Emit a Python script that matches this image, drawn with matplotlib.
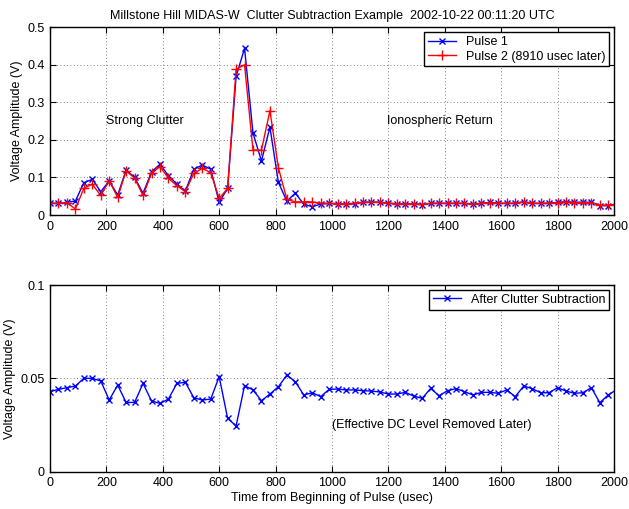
import numpy as np
import matplotlib.pyplot as plt

plt.rcParams['font.family'] = ['Liberation Sans', 'DejaVu Sans']

# sample times (usec), 30 usec spacing; last sample lies just past 2000
t = np.arange(0, 2011, 30)

pulse1 = [0.031, 0.031, 0.034, 0.037, 0.086, 0.095, 0.062, 0.091, 0.053, 0.120,
          0.100, 0.058, 0.115, 0.135, 0.105, 0.082, 0.064, 0.122, 0.133, 0.122,
          0.034, 0.071, 0.369, 0.444, 0.218, 0.144, 0.234, 0.087, 0.037, 0.058,
          0.029, 0.022, 0.029, 0.031, 0.030, 0.030, 0.029, 0.034, 0.034, 0.034,
          0.031, 0.030, 0.030, 0.030, 0.027, 0.031, 0.031, 0.031, 0.031, 0.031,
          0.028, 0.031, 0.034, 0.031, 0.031, 0.031, 0.035, 0.031, 0.031, 0.031,
          0.034, 0.035, 0.034, 0.034, 0.034, 0.025, 0.025, 0.028]

pulse2 = [0.031, 0.031, 0.033, 0.016, 0.071, 0.082, 0.052, 0.091, 0.047, 0.118,
          0.098, 0.052, 0.111, 0.129, 0.098, 0.078, 0.062, 0.111, 0.124, 0.113,
          0.044, 0.071, 0.388, 0.400, 0.173, 0.173, 0.278, 0.126, 0.042, 0.035,
          0.035, 0.035, 0.031, 0.031, 0.030, 0.030, 0.031, 0.034, 0.034, 0.034,
          0.031, 0.030, 0.030, 0.030, 0.028, 0.031, 0.031, 0.031, 0.031, 0.031,
          0.029, 0.031, 0.033, 0.031, 0.031, 0.031, 0.035, 0.031, 0.031, 0.031,
          0.033, 0.035, 0.033, 0.033, 0.033, 0.026, 0.026, 0.028]

subtracted = [0.0429, 0.0441, 0.0450, 0.0459, 0.0500, 0.0500, 0.0486, 0.0384, 0.0464, 0.0371,
              0.0371, 0.0473, 0.0379, 0.0366, 0.0389, 0.0473, 0.0479, 0.0396, 0.0384, 0.0389,
              0.0509, 0.0286, 0.0245, 0.0461, 0.0438, 0.0380, 0.0416, 0.0455, 0.0518, 0.0482,
              0.0411, 0.0423, 0.0402, 0.0441, 0.0443, 0.0438, 0.0438, 0.0434, 0.0432, 0.0427,
              0.0416, 0.0416, 0.0425, 0.0405, 0.0393, 0.0446, 0.0407, 0.0434, 0.0445, 0.0429,
              0.0411, 0.0425, 0.0425, 0.0420, 0.0438, 0.0402, 0.0459, 0.0445, 0.0423, 0.0423,
              0.0450, 0.0432, 0.0420, 0.0423, 0.0450, 0.0370, 0.0411, 0.0440]

xticks = np.arange(0, 2001, 200)
fs = 9

fig = plt.figure(figsize=(6.29, 5.09), dpi=100)
ax1 = fig.add_axes([0.0795, 0.5776, 0.8965, 0.3688])
ax2 = fig.add_axes([0.0795, 0.0733, 0.8965, 0.3667])


def style(ax):
    ax.set_xlim(0, 2000)
    ax.set_xticks(xticks)
    ax.grid(True, linestyle=(0, (1, 3)), color='0.35', linewidth=0.6)
    ax.tick_params(direction='in', top=True, right=True, length=4, labelsize=fs, pad=4)
    for s in ax.spines.values():
        s.set_linewidth(1.0)


ax1.plot(t, pulse1, 'b-x', lw=1, ms=5, mew=1, label='Pulse 1')
ax1.plot(t, pulse2, 'r-+', lw=1, ms=7, mew=1, label='Pulse 2 (8910 usec later)')
style(ax1)
ax1.set_ylim(0, 0.5)
ax1.set_yticks([0, 0.1, 0.2, 0.3, 0.4, 0.5])
ax1.set_yticklabels(['0', '0.1', '0.2', '0.3', '0.4', '0.5'])
ax1.set_ylabel('Voltage Amplitude (V)', fontsize=fs, labelpad=3)
ax1.set_title('Millstone Hill MIDAS-W  Clutter Subtraction Example  2002-10-22 00:11:20 UTC',
              fontsize=fs, pad=6)
ax1.text(200, 0.25, 'Strong Clutter', fontsize=fs, va='center')
ax1.text(1195, 0.25, 'Ionospheric Return', fontsize=fs, va='center')
leg = ax1.legend(loc='upper right', fontsize=fs, fancybox=False, framealpha=1,
                 edgecolor='k', borderaxespad=0.4, handlelength=2.2, borderpad=0.3,
                 labelspacing=0.2)
leg.get_frame().set_linewidth(1.0)

ax2.plot(t, subtracted, 'b-x', lw=1, ms=5, mew=1, label='After Clutter Subtraction')
style(ax2)
ax2.set_ylim(0, 0.1)
ax2.set_yticks([0, 0.05, 0.1])
ax2.set_yticklabels(['0', '0.05', '0.1'])
ax2.set_ylabel('Voltage Amplitude (V)', fontsize=fs, labelpad=3)
ax2.set_xlabel('Time from Beginning of Pulse (usec)', fontsize=fs, labelpad=2)
ax2.text(1000, 0.025, '(Effective DC Level Removed Later)', fontsize=fs, va='center')
leg2 = ax2.legend(loc='upper right', fontsize=fs, fancybox=False, framealpha=1,
                  edgecolor='k', borderaxespad=0.4, handlelength=2.2, borderpad=0.3)
leg2.get_frame().set_linewidth(1.0)

fig.savefig('out.png', dpi=100)
